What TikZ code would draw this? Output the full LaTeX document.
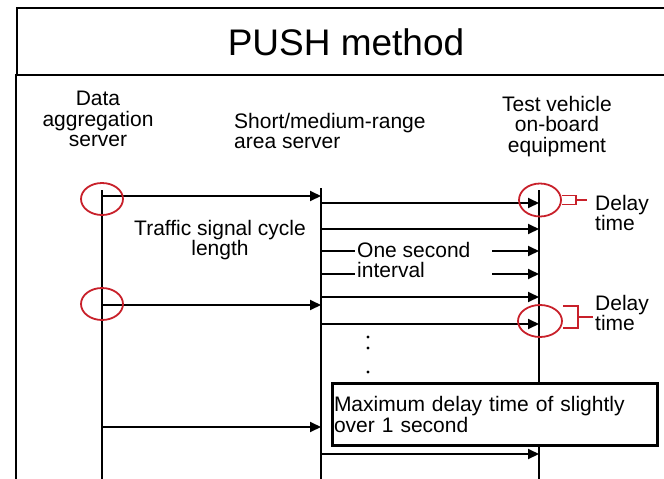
\documentclass[tikz,border=0pt]{standalone}
\usepackage{fontspec}
\setmainfont{Liberation Sans}
\usepackage{tikz}
\usetikzlibrary{positioning, arrows.meta, calc, shapes.geometric}
\definecolor{Mark}{HTML}{C8202A}

\tikzset{
  frameline/.style={line width=2pt},
  lifeline/.style={line width=2pt},
  msg/.style={line width=2pt, -{Triangle[length=11pt, width=10pt]}},
  lbl/.style={inner sep=0pt, font=\fontsize{21}{20.5}\selectfont},
  ring/.style={draw=Mark, line width=1.8pt, ellipse, inner sep=0pt},
  markline/.style={draw=Mark, line width=1.8pt},
}

\begin{document}
\begin{tikzpicture}[x=1pt, y=-1pt]
  \useasboundingbox (0,0) rectangle (664,479);
  \clip (0,0) rectangle (664,479);

  % frame and title
  \draw[frameline] (17,8) rectangle (690,75);
  \draw[frameline] (16,75) rectangle (690,495);
  \node[lbl, font=\fontsize{37}{40}\selectfont] (title) at (346,42) {PUSH method};

  % column heads
  \node[lbl, align=center, anchor=north] (aggname) at (98,91) {Data\\aggregation\\server};
  \node[lbl, align=left, anchor=north west] (areaname) at (234,113) {Short/medium-range\\area server};
  \node[lbl, align=center, anchor=north] (vehname) at (557,96) {Test vehicle\\on-board\\equipment};

  % lifelines
  \coordinate (agg) at (102,190);
  \coordinate (area) at (321,188);
  \coordinate (veh) at (539,190);
  \foreach \c in {agg, area, veh}
    \draw[lifeline] (\c) -- (\c |- 0,495);

  % messages
  \foreach \y in {196,305,427}
    \draw[msg] (agg |- 0,\y) -- (area |- 0,\y);
  \foreach \y in {203,229,297,324,454}
    \draw[msg] (area |- 0,\y) -- (veh |- 0,\y);
  \foreach \y in {251,274} {
    \draw[lifeline] (area |- 0,\y) -- (355,\y);
    \draw[msg] (492,\y) -- (veh |- 0,\y);
  }

  \node[lbl, align=center, anchor=north] (cycle) at (220,220) {Traffic signal cycle\\length};
  \node[lbl, align=left, anchor=north west] (onesec) at (357,242) {One second\\interval};

  % delay marks
  \node[ring, minimum width=42pt, minimum height=32pt] (ring1) at (102,199) {};
  \node[ring, minimum width=42pt, minimum height=32pt] (ring2) at (102,304) {};
  \node[ring, minimum width=42pt, minimum height=33pt] (ring3) at (540,200) {};
  \node[ring, minimum width=44pt, minimum height=32pt] (ring4) at (540,321) {};

  \draw[markline] ($(ring3.east)+(0,-4.5)$) -- ++(14,0) -- ++(0,9) -- ++(-14,0);
  \draw[markline] ($(ring3.east)+(14,0)$) -- ++(11,0);
  \draw[markline] ($(ring4.east)+(0,-15)$) -- ++(15,0) -- ++(0,22) -- ++(-15,0);
  \draw[markline] ($(ring4.east)+(15,-4)$) -- ++(15,0);

  \node[lbl, align=left, anchor=north west] (delay1) at (595,195) {Delay\\time};
  \node[lbl, align=left, anchor=north west] (delay2) at (595,295) {Delay\\time};

  % more messages follow
  \foreach \y in {337,348,372}
    \fill (368,\y) circle (1.6pt);

  \node[lbl, draw, line width=3pt, fill=white, anchor=north west,
        minimum height=62pt, text width=322pt, inner xsep=1.5pt, align=left]
        (maxdelay) at (331,382) {Maximum delay time of slightly\\over 1 second};
\end{tikzpicture}
\end{document}
